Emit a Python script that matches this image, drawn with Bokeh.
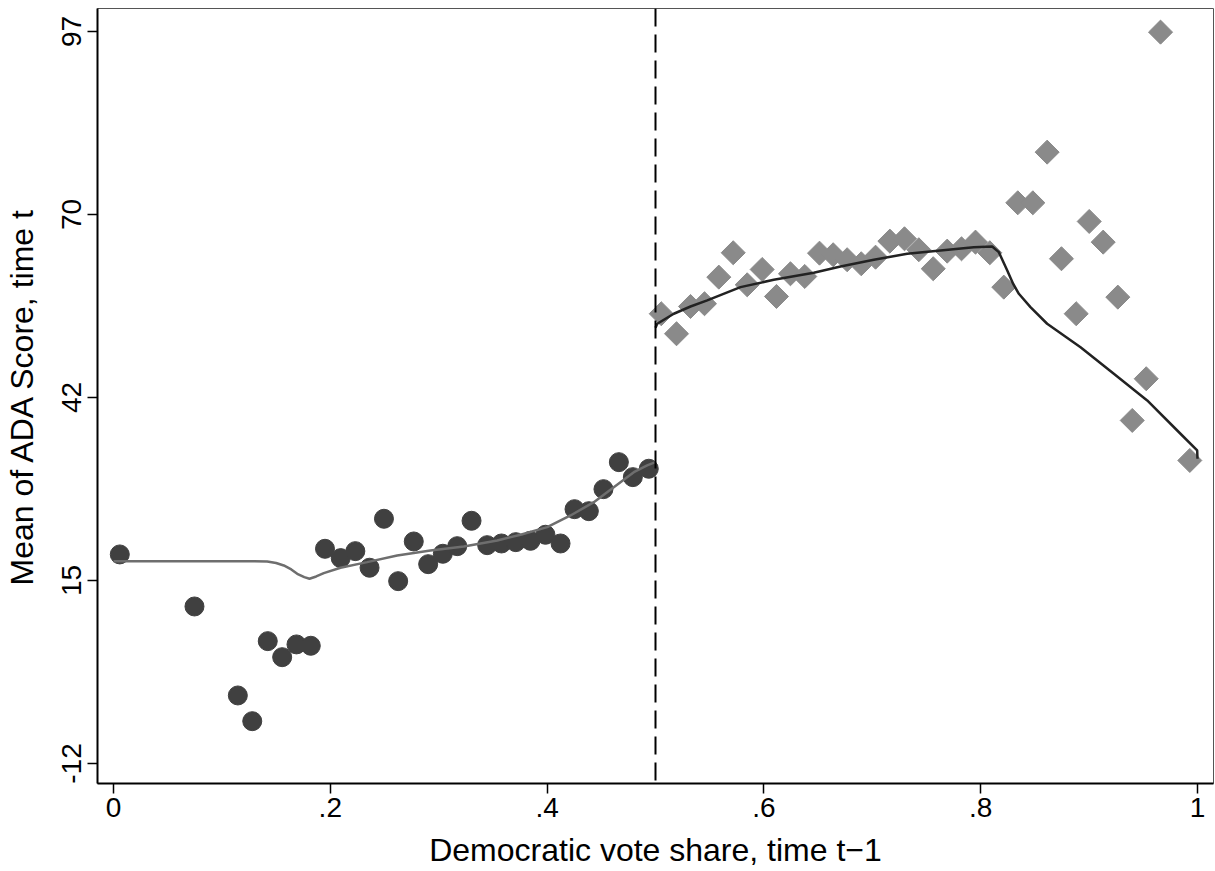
import math
from bokeh.plotting import figure
from bokeh.models import FixedTicker, Span, Range1d, CustomJSTickFormatter
from bokeh.embed import file_html
from bokeh.resources import INLINE

# ---- data ----
# binned means, Democratic vote share < 0.5 (circles)
left_x = [0.0058, 0.0747, 0.1147, 0.1280, 0.1423, 0.1556, 0.1688, 0.1820,
          0.1951, 0.2096, 0.2231, 0.2362, 0.2495, 0.2626, 0.2770, 0.2903,
          0.3038, 0.3171, 0.3303, 0.3447, 0.3579, 0.3711, 0.3847, 0.3985,
          0.4124, 0.4253, 0.4385, 0.4520, 0.4662, 0.4791, 0.4938]
left_y = [19.13, 11.38, -1.87, -5.70, 6.22, 3.83, 5.73, 5.53,
          19.97, 18.58, 19.62, 17.15, 24.44, 15.15, 21.06, 17.68,
          19.23, 20.36, 24.14, 20.51, 20.76, 20.96, 21.16, 22.06,
          20.76, 25.87, 25.57, 28.85, 32.87, 30.64, 31.89]

# binned means, Democratic vote share >= 0.5 (diamonds)
right_x = [0.5053, 0.5194, 0.5323, 0.5452, 0.5584, 0.5717, 0.5846, 0.5984,
           0.6116, 0.6245, 0.6377, 0.6513, 0.6639, 0.6768, 0.6898, 0.7030,
           0.7162, 0.7297, 0.7429, 0.7562, 0.7691, 0.7823, 0.7952, 0.8084,
           0.8213, 0.8342, 0.8481, 0.8613, 0.8745, 0.8881, 0.9001, 0.9130,
           0.9265, 0.9398, 0.9527, 0.9659, 0.9929]
right_y = [54.97, 51.99, 56.05, 56.46, 60.42, 64.05, 59.28, 61.56,
           57.54, 60.92, 60.52, 63.99, 63.75, 63.01, 62.41, 63.39,
           65.78, 66.13, 64.50, 61.67, 64.29, 64.64, 65.63, 64.05,
           58.93, 71.49, 71.49, 79.03, 63.16, 54.97, 68.71, 65.63,
           57.44, 39.08, 45.29, 96.90, 33.12]

# fitted curves
left_fit_x = [0.0, 0.1300, 0.1418, 0.1500, 0.1571, 0.1640, 0.1695, 0.1760,
              0.1808, 0.1870, 0.1940, 0.2094, 0.2340, 0.2617, 0.2924, 0.3232,
              0.3540, 0.3755, 0.4001, 0.4216, 0.4431, 0.4615, 0.4800, 0.4923,
              0.5000]
left_fit_y = [18.13, 18.13, 18.08, 17.85, 17.49, 16.90, 16.25, 15.75,
              15.51, 15.85, 16.34, 17.15, 17.98, 18.98, 19.72, 20.32,
              21.21, 22.06, 23.19, 24.93, 26.91, 29.15, 31.38, 32.38,
              32.87]

right_fit_x = [0.5000, 0.5016, 0.5169, 0.5323, 0.5477, 0.5784, 0.6091, 0.6460,
               0.6707, 0.7014, 0.7322, 0.7629, 0.7936, 0.8106, 0.8167, 0.8245,
               0.8300, 0.8352, 0.8459, 0.8613, 0.8921, 0.9228, 0.9536, 0.9843,
               0.9997, 1.0000]
right_fit_y = [52.88, 53.48, 54.97, 56.05, 56.95, 58.93, 60.03, 61.07,
               62.01, 63.01, 63.90, 64.39, 64.88, 64.99, 64.14, 61.41,
               59.40, 57.94, 55.95, 53.48, 49.99, 46.03, 42.06, 37.10,
               34.61, 33.38]

cutoff = 0.5

x_ticks = [0.0, 0.2, 0.4, 0.6, 0.8, 1.0]
x_tick_labels = ["0", ".2", ".4", ".6", ".8", "1"]
y_ticks = [-12.0, 15.25, 42.5, 69.75, 97.0]
y_tick_labels = ["-12", "15", "42", "70", "97"]

x_title = "Democratic vote share, time t\u22121"
y_title = "Mean of ADA Score, time t"

FONT = "Liberation Sans"

p = figure(width=1214, height=870, output_backend="svg", toolbar_location=None,
           x_range=Range1d(-0.01476, 1.01476), y_range=Range1d(-14.98, 100.42),
           min_border_left=97, min_border_right=1, min_border_top=8,
           min_border_bottom=87)
p.background_fill_color = "white"
p.border_fill_color = "white"
p.outline_line_color = "#555555"
p.outline_line_width = 1
p.xgrid.visible = False
p.ygrid.visible = False

fmt_js = """
let best = 0;
for (let i = 0; i < tks.length; i++) {
  if (Math.abs(tks[i] - tick) < Math.abs(tks[best] - tick)) best = i;
}
return lbls[best];
"""

for ax, tks, lbls in ((p.xaxis[0], x_ticks, x_tick_labels),
                      (p.yaxis[0], y_ticks, y_tick_labels)):
    ax.ticker = FixedTicker(ticks=tks)
    ax.formatter = CustomJSTickFormatter(args=dict(tks=tks, lbls=lbls), code=fmt_js)
    ax.axis_line_color = "black"
    ax.axis_line_width = 2
    ax.major_tick_line_color = "black"
    ax.major_tick_line_width = 1.5
    ax.major_tick_out = 10
    ax.major_tick_in = 0
    ax.minor_tick_line_color = None
    ax.major_label_text_font = FONT
    ax.major_label_text_font_size = "28px"
    ax.major_label_text_color = "black"
    ax.axis_label_text_font = FONT
    ax.axis_label_text_font_size = "32px"
    ax.axis_label_text_font_style = "normal"
    ax.axis_label_text_color = "black"

p.xaxis.axis_label = x_title
p.yaxis.axis_label = y_title
p.xaxis.major_label_standoff = 4
p.xaxis.axis_label_standoff = 12
p.yaxis.major_label_orientation = "vertical"
p.yaxis.major_label_standoff = 6
p.yaxis.axis_label_standoff = 20

# points
p.scatter(left_x, left_y, marker="circle", size=19, fill_color="#404040",
          line_color="#404040")
p.scatter(right_x, right_y, marker="square", angle=math.pi / 4, size=17,
          fill_color="#8a8a8a", line_color="#8a8a8a")

# fits
p.line(left_fit_x, left_fit_y, line_color="#6e6e6e", line_width=2.5)
p.line(right_fit_x, right_fit_y, line_color="#222222", line_width=2.5)

# cutoff
p.add_layout(Span(location=cutoff, dimension="height", line_color="black",
                  line_width=2, line_dash="18 8"))

open("out.html", "w").write(file_html(p, INLINE))
